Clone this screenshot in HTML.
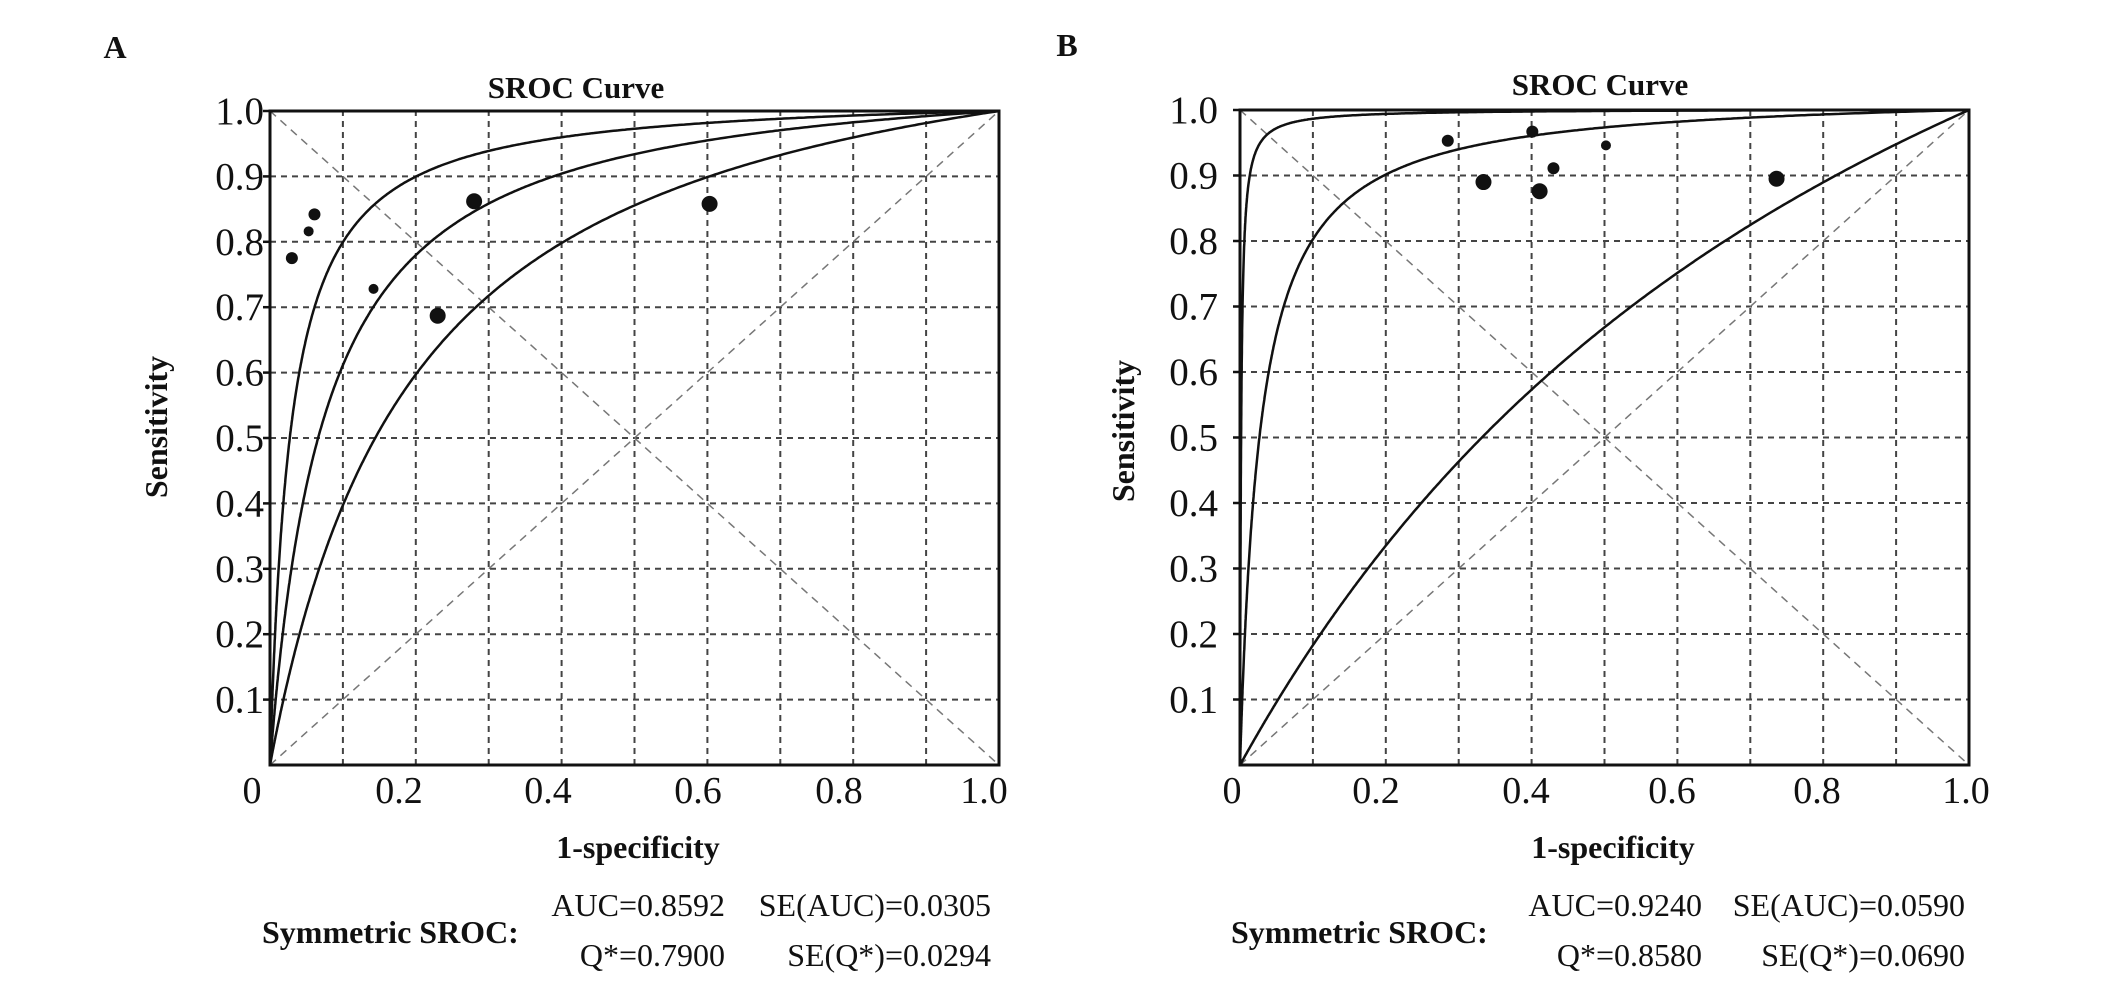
<!DOCTYPE html>
<html><head><meta charset="utf-8"><style>
body{margin:0;background:#fff;}
svg text{font-family:"Liberation Serif",serif;fill:#111;}
</style></head><body>
<svg id="c" width="2126" height="987" viewBox="0 0 2126 987"></svg>
<script>
// Panel A data
const gridVals=[0.1,0.2,0.3,0.4,0.5,0.6,0.7,0.8,0.9];
const yTickLabels=["0.1","0.2","0.3","0.4","0.5","0.6","0.7","0.8","0.9","1.0"];
const xTickLabels=["0","0.2","0.4","0.6","0.8","1.0"];
const curveA_D=[3.58,2.65,1.78];
const studiesA_fpr=[0.030,0.053,0.061,0.142,0.230,0.280,0.603];
const studiesA_sens=[0.775,0.816,0.842,0.728,0.687,0.862,0.858];
const studiesA_size=[6,5,6,5,8,8,8];
// Panel B data
const curveB_D=[6.5,3.6,0.7];
const studiesB_fpr=[0.285,0.334,0.401,0.411,0.430,0.502,0.736];
const studiesB_sens=[0.953,0.890,0.967,0.876,0.911,0.946,0.895];
const studiesB_size=[6,8,6,8,6,5,8];

const NS="http://www.w3.org/2000/svg";
const svg=document.getElementById('c');
function mk(t,a,p){const e=document.createElementNS(NS,t);for(const k in a)e.setAttribute(k,a[k]);(p||svg).appendChild(e);return e;}

function panel(cfg){
  const g=mk('g',{});
  
  
  const X=v=>cfg.x0+v*(cfg.x1-cfg.x0), Y=v=>cfg.y0-v*(cfg.y0-cfg.y1);
  gridVals.forEach(v=>{
    let l=mk('line',{x1:X(v),x2:X(v),y1:Y(0),y2:Y(1),stroke:'#444','stroke-width':2,'stroke-dasharray':'6 5'},g);
    
    
    l=mk('line',{x1:X(0),x2:X(1),y1:Y(v),y2:Y(v),stroke:'#444','stroke-width':2,'stroke-dasharray':'6 5'},g);
    
    
  });
  let d=mk('line',{x1:X(0),y1:Y(0),x2:X(1),y2:Y(1),stroke:'#777','stroke-width':1.5,'stroke-dasharray':'8 6'},g);
  
  
  d=mk('line',{x1:X(0),y1:Y(1),x2:X(1),y2:Y(0),stroke:'#777','stroke-width':1.5,'stroke-dasharray':'8 6'},g);
  
  
  cfg.D.forEach((D,i)=>{
    let pts=[[X(0),Y(0)]];
    for(let k=1;k<=600;k++){
      const x=Math.pow(k/600,3);
      const lg=x>=1?50:Math.log(x/(1-x));
      const y=x>=1?1:1/(1+Math.exp(-(D+lg)));
      pts.push([X(x),Y(y)]);
    }
    const p=mk('polyline',{points:pts.map(q=>q[0].toFixed(1)+','+q[1].toFixed(1)).join(' '),fill:'none',stroke:'#111','stroke-width':2.5},g);
    
    
  });
  cfg.fpr.forEach((f,i)=>{
    const c=mk('circle',{cx:X(f),cy:Y(cfg.sens[i]),r:cfg.size[i],fill:'#111'},g);
    
    
  });
  const r=mk('rect',{x:X(0),y:Y(1),width:X(1)-X(0),height:Y(0)-Y(1),fill:'none',stroke:'#111','stroke-width':3},g);
  
  
  yTickLabels.forEach((t,i)=>{
    const v=(i+1)/10;
    const tk=mk('line',{x1:X(0)-7,x2:X(0),y1:Y(v),y2:Y(v),stroke:'#111','stroke-width':2.5},g);
    
    
    const tx=mk('text',{x:cfg.yLabRight,y:Y(v)+13,'font-size':39,'text-anchor':'end'},g);
    tx.textContent=t;
    
    
  });
  xTickLabels.forEach((t,i)=>{
    const tx=mk('text',{x:cfg.xLabPos[i],y:803,'font-size':38,'text-anchor':'middle'},g);
    tx.textContent=t;
    
    
  });
}
panel({name:'panel-a',x0:270,x1:999,y0:765,y1:111,D:curveA_D,fpr:studiesA_fpr,sens:studiesA_sens,size:studiesA_size,yLabRight:264,xLabPos:[252,399,548,698,839,984]});
panel({name:'panel-b',x0:1240,x1:1969,y0:765,y1:110,D:curveB_D,fpr:studiesB_fpr,sens:studiesB_sens,size:studiesB_size,yLabRight:1218,xLabPos:[1232,1376,1526,1672,1817,1966]});
</script>
<svg width="2126" height="987" style="position:absolute;left:0;top:0">
<g font-family="Liberation Serif, serif" fill="#111">
<text x="115" y="58" font-size="32" font-weight="bold" text-anchor="middle">A</text>
<text x="1067" y="56" font-size="32" font-weight="bold" text-anchor="middle">B</text>
<text x="576" y="98" font-size="31" font-weight="bold" text-anchor="middle">SROC Curve</text>
<text x="1600" y="95" font-size="31" font-weight="bold" text-anchor="middle">SROC Curve</text>
<text transform="translate(167,427) rotate(-90)" font-size="32" font-weight="bold" text-anchor="middle">Sensitivity</text>
<text transform="translate(1134,431) rotate(-90)" font-size="32" font-weight="bold" text-anchor="middle">Sensitivity</text>
<text x="638" y="858" font-size="32" font-weight="bold" text-anchor="middle">1-specificity</text>
<text x="1613" y="858" font-size="32" font-weight="bold" text-anchor="middle">1-specificity</text>
<text x="262" y="943" font-size="32" font-weight="bold">Symmetric SROC:</text>
<text x="725" y="916" font-size="32" text-anchor="end">AUC=0.8592</text>
<text x="991" y="916" font-size="32" text-anchor="end">SE(AUC)=0.0305</text>
<text x="725" y="966" font-size="32" text-anchor="end">Q*=0.7900</text>
<text x="991" y="966" font-size="32" text-anchor="end">SE(Q*)=0.0294</text>
<text x="1231" y="943" font-size="32" font-weight="bold">Symmetric SROC:</text>
<text x="1702" y="916" font-size="32" text-anchor="end">AUC=0.9240</text>
<text x="1965" y="916" font-size="32" text-anchor="end">SE(AUC)=0.0590</text>
<text x="1702" y="966" font-size="32" text-anchor="end">Q*=0.8580</text>
<text x="1965" y="966" font-size="32" text-anchor="end">SE(Q*)=0.0690</text>
</g></svg>
</body></html>
